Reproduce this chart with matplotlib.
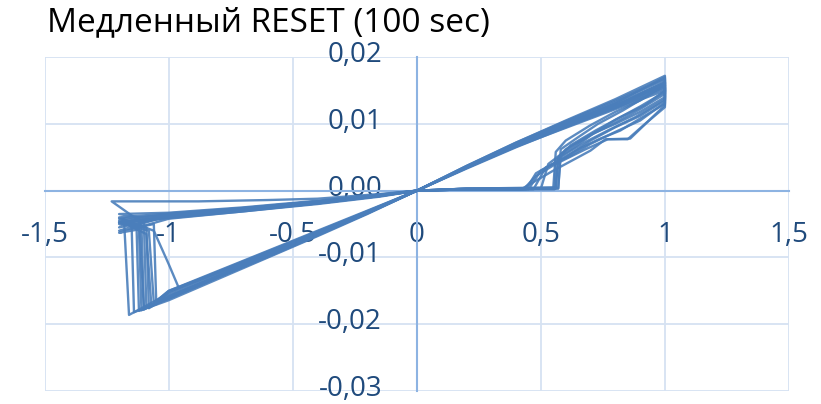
import matplotlib
matplotlib.use('Agg')
import matplotlib.pyplot as plt
from matplotlib.transforms import ScaledTranslation

plt.rcParams['font.family'] = ['Open Sans', 'DejaVu Sans']

title = 'Медленный RESET (100 sec)'

x_ticks = [-1.5, -1.0, -0.5, 0.0, 0.5, 1.0, 1.5]
x_tick_labels = ['-1,5', '-1', '-0,5', '0', '0,5', '1', '1,5']
y_ticks = [-0.03, -0.02, -0.01, 0.0, 0.01, 0.02]
y_tick_labels = ['-0,03', '-0,02', '-0,01', '0,00', '0,01', '0,02']

# voltage (x) and current (y) of each sweep cycle
cycles_v = [
    [0, 0.2, 0.4, 0.6, 0.8, 1.0, 1.0, 0.9, 0.8, 0.7, 0.6, 0.57, 0.56, 0.2, 0,
     -0.2, -0.4, -0.6, -0.8, -1.0, -1.16, -1.18, -1.2, -1.0, -0.7, -0.4, -0.15, 0],
    [0, 0.2, 0.4, 0.6, 0.8, 1.0, 1.0, 0.86, 0.77, 0.68, 0.56, 0.48, 0.43, 0.2, 0,
     -0.2, -0.4, -0.6, -0.8, -1.0, -1.10, -1.11, -1.2, -1.0, -0.7, -0.4, -0.15, 0],
    [0, 0.2, 0.4, 0.6, 0.8, 1.0, 1.0, 0.92, 0.82, 0.72, 0.62, 0.57, 0.56, 0.2, 0,
     -0.2, -0.4, -0.6, -0.8, -1.0, -1.08, -1.09, -1.2, -1.0, -0.7, -0.4, -0.15, 0],
    [0, 0.2, 0.4, 0.6, 0.8, 1.0, 1.0, 0.9, 0.8, 0.7, 0.6, 0.5, 0.45, 0.2, 0,
     -0.2, -0.4, -0.6, -0.8, -1.0, -1.12, -1.13, -1.2, -1.0, -0.7, -0.4, -0.15, 0],
    [0, 0.2, 0.4, 0.6, 0.8, 1.0, 1.0, 0.9, 0.8, 0.7, 0.6, 0.56, 0.55, 0.2, 0,
     -0.2, -0.4, -0.6, -0.8, -0.96, -1.0, -1.06, -1.2, -1.0, -0.7, -0.4, -0.15, 0],
    [0, 0.2, 0.4, 0.6, 0.8, 1.0, 1.0, 0.92, 0.85, 0.76, 0.7, 0.55, 0.42, 0.2, 0,
     -0.2, -0.4, -0.6, -0.8, -1.0, -1.05, -1.06, -1.2, -1.0, -0.7, -0.4, -0.15, 0],
    [0, 0.2, 0.4, 0.6, 0.8, 1.0, 1.0, 0.92, 0.83, 0.73, 0.65, 0.58, 0.57, 0.2, 0,
     -0.2, -0.4, -0.6, -0.8, -1.0, -1.10, -1.12, -1.2, -1.0, -0.7, -0.4, -0.15, 0],
    [0, 0.2, 0.4, 0.6, 0.8, 1.0, 1.0, 0.9, 0.8, 0.7, 0.62, 0.52, 0.47, 0.2, 0,
     -0.2, -0.4, -0.6, -0.8, -1.0, -1.14, -1.15, -1.2, -1.0, -0.7, -0.4, -0.15, 0],
    [0, 0.2, 0.4, 0.6, 0.8, 1.0, 1.0, 0.9, 0.8, 0.7, 0.6, 0.53, 0.5, 0.2, 0,
     -0.2, -0.4, -0.6, -0.8, -1.0, -1.07, -1.09, -1.2, -1.0, -0.7, -0.4, -0.15, 0],
    [0, 0.2, 0.4, 0.6, 0.8, 1.0, 1.0, 0.88, 0.78, 0.68, 0.6, 0.56, 0.555, 0.2, 0,
     -0.2, -0.4, -0.6, -0.8, -1.0, -1.09, -1.10, -1.23, -0.88, -0.6, -0.4, -0.15, 0],
    [0, 0.2, 0.4, 0.6, 0.8, 1.0, 1.0, 0.9, 0.8, 0.72, 0.64, 0.58, 0.57, 0.2, 0,
     -0.2, -0.4, -0.6, -0.8, -1.0, -1.11, -1.12, -1.2, -1.0, -0.7, -0.4, -0.15, 0],
    [0, 0.2, 0.4, 0.6, 0.8, 1.0, 1.0, 0.9, 0.82, 0.74, 0.66, 0.48, 0.44, 0.2, 0,
     -0.2, -0.4, -0.6, -0.8, -1.0, -1.06, -1.08, -1.2, -1.0, -0.7, -0.4, -0.15, 0],
]
cycles_i = [
    [0, .0036, .0070, .0101, .0131, .0170, .0140, .0118, .0100, .0084, .0062, .0050, .0003, .0003, 0,
     -.0032, -.0063, -.0094, -.0124, -.0154, -.0186, -.0045, -.0042, -.0036, -.0027, -.0017, -.0007, 0],
    [0, .0034, .0067, .0098, .0127, .0163, .0128, .0078, .0077, .0062, .0040, .0022, .0002, .0002, 0,
     -.0034, -.0066, -.0098, -.0129, -.0160, -.0176, -.0052, -.0047, -.0038, -.0029, -.0018, -.0008, 0],
    [0, .0035, .0068, .0098, .0127, .0160, .0150, .0128, .0110, .0090, .0068, .0048, .0005, .0003, 0,
     -.0033, -.0065, -.0096, -.0127, -.0158, -.0176, -.0055, -.0048, -.0040, -.0030, -.0019, -.0008, 0],
    [0, .0034, .0066, .0097, .0126, .0158, .0135, .0112, .0095, .0075, .0050, .0030, .0002, .0002, 0,
     -.0035, -.0068, -.0100, -.0132, -.0164, -.0180, -.0050, -.0050, -.0041, -.0031, -.0020, -.0009, 0],
    [0, .0037, .0072, .0104, .0135, .0168, .0158, .0135, .0118, .0098, .0075, .0058, .0004, .0003, 0,
     -.0031, -.0061, -.0091, -.0121, -.0145, -.0110, -.0060, -.0040, -.0034, -.0026, -.0016, -.0006, 0],
    [0, .0033, .0065, .0095, .0124, .0155, .0125, .0100, .0077, .0077, .0060, .0030, .0002, .0002, 0,
     -.0032, -.0063, -.0093, -.0123, -.0152, -.0170, -.0050, -.0060, -.0037, -.0028, -.0018, -.0007, 0],
    [0, .0037, .0072, .0105, .0137, .0172, .0160, .0140, .0120, .0100, .0080, .0062, .0003, .0003, 0,
     -.0033, -.0064, -.0096, -.0127, -.0157, -.0178, -.0040, -.0035, -.0033, -.0025, -.0015, -.0006, 0],
    [0, .0034, .0066, .0094, .0122, .0150, .0132, .0105, .0088, .0070, .0052, .0035, .0002, .0002, 0,
     -.0034, -.0067, -.0099, -.0130, -.0162, -.0182, -.0045, -.0055, -.0039, -.0030, -.0019, -.0008, 0],
    [0, .0035, .0069, .0100, .0130, .0162, .0145, .0122, .0102, .0083, .0060, .0040, .0003, .0002, 0,
     -.0030, -.0060, -.0090, -.0120, -.0150, -.0172, -.0065, -.0045, -.0035, -.0026, -.0016, -.0007, 0],
    [0, .0036, .0070, .0102, .0133, .0166, .0137, .0110, .0092, .0073, .0055, .0046, .0002, .0002, 0,
     -.0033, -.0065, -.0097, -.0128, -.0160, -.0175, -.0050, -.0016, -.0016, -.0014, -.0012, -.0005, 0],
    [0, .0035, .0068, .0099, .0128, .0158, .0148, .0126, .0106, .0088, .0066, .0052, .0004, .0003, 0,
     -.0034, -.0066, -.0097, -.0129, -.0161, -.0179, -.0058, -.0063, -.0042, -.0031, -.0019, -.0008, 0],
    [0, .0035, .0067, .0096, .0124, .0153, .0130, .0108, .0090, .0078, .0064, .0026, .0002, .0002, 0,
     -.0031, -.0062, -.0092, -.0122, -.0150, -.0168, -.0060, -.0048, -.0038, -.0028, -.0017, -.0007, 0],
]

fig = plt.figure(figsize=(8.21, 4.04), dpi=100)
ax = fig.add_axes([0.0544, 0.032, 0.9066, 0.8267])

for v, i in zip(cycles_v, cycles_i):
    ax.plot(v, i, color='#4A7EBB', lw=1.7, alpha=0.9, zorder=3)

ax.set_xlim(-1.5, 1.5)
ax.set_ylim(-0.03, 0.02)
ax.set_xticks(x_ticks)
ax.set_xticklabels(x_tick_labels)
ax.set_yticks(y_ticks)
ax.set_yticklabels(y_tick_labels)
ax.grid(True, color='#D6E2F2', lw=1.3, zorder=0)
ax.set_axisbelow(True)

for s in ['top', 'right']:
    ax.spines[s].set_visible(False)
for s in ['left', 'bottom']:
    ax.spines[s].set_position(('data', 0))
    ax.spines[s].set_color('#8DB3E2')
    ax.spines[s].set_linewidth(1.5)
    ax.spines[s].set_zorder(2)

ax.tick_params(axis='x', length=0, pad=22, labelsize=20, labelcolor='#1F4A7C')
ax.tick_params(axis='y', length=0, pad=25, labelsize=20, labelcolor='#1F4A7C')

# nudge the value labels up a little so the bottom one stays inside the figure
shift = ScaledTranslation(0, 4 / 72, fig.dpi_scale_trans)
for lab in ax.get_yticklabels():
    lab.set_transform(lab.get_transform() + shift)

fig.text(0.057, 0.985, title, fontsize=24, va='top', ha='left', color='black')

fig.savefig('out.png', dpi=100)
